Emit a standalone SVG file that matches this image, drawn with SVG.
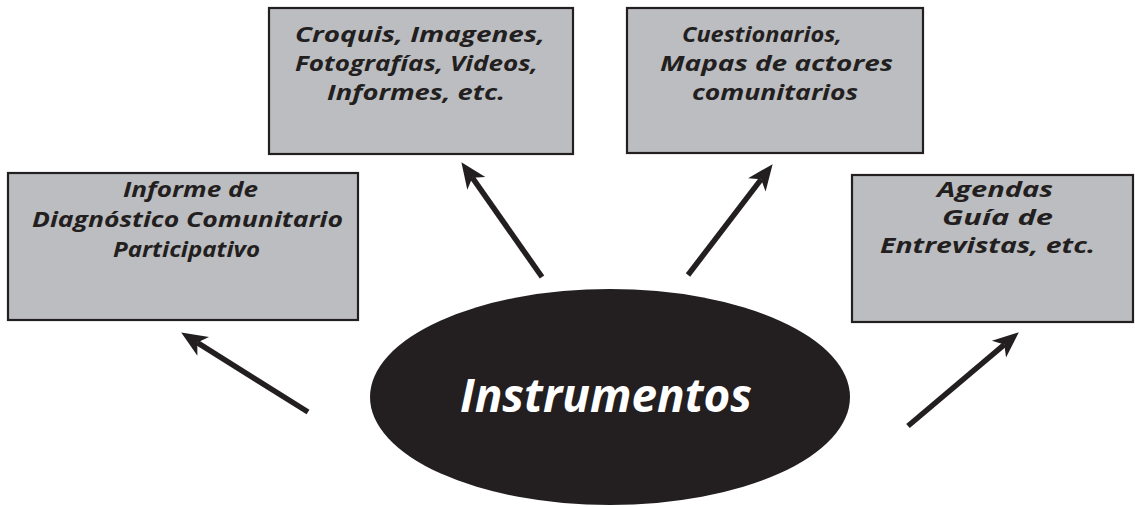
<svg xmlns="http://www.w3.org/2000/svg" width="1135" height="507" viewBox="0 0 1135 507">
<style>
.box{fill:#bcbdc0;stroke:#231f20;stroke-width:2.2}
.t{font-family:"Open Sans","DejaVu Sans",sans-serif;font-style:italic;font-weight:700;font-size:21px;fill:#231f20}
.big{font-family:"Open Sans","DejaVu Sans",sans-serif;font-style:italic;font-weight:700;font-size:47px;fill:#ffffff}
.ln{stroke:#231f20;stroke-width:5.5;fill:none;marker-end:url(#ah)}
</style>
<defs>
<marker id="ah" viewBox="-8 -12 28 24" refX="0" refY="0" markerWidth="28" markerHeight="24" markerUnits="userSpaceOnUse" orient="auto">
<path d="M19,0 L-7,-11 L0,0 L-7,11 Z" fill="#231f20"/>
</marker>
</defs>
<rect width="1135" height="507" fill="#ffffff"/>
<g id="connectors">
<line class="ln" x1="308" y1="412" x2="197.3" y2="342.6"/>
<line class="ln" x1="542" y1="277" x2="472.3" y2="177.7"/>
<line class="ln" x1="688" y1="275" x2="761.1" y2="179.3"/>
<line class="ln" x1="908" y1="426" x2="1004.3" y2="344.6"/>
</g>
<g id="node-informe">
<rect class="box" x="8" y="173" width="350" height="147"/>
<text class="t" x="123" y="197" textLength="135" lengthAdjust="spacingAndGlyphs">Informe de</text>
<text class="t" x="32" y="227" textLength="311" lengthAdjust="spacingAndGlyphs">Diagnóstico Comunitario</text>
<text class="t" x="113" y="257" textLength="147" lengthAdjust="spacingAndGlyphs">Participativo</text>
</g>
<g id="node-croquis">
<rect class="box" x="269" y="8" width="304" height="146"/>
<text class="t" x="295" y="42" textLength="250" lengthAdjust="spacingAndGlyphs">Croquis, Imagenes,</text>
<text class="t" x="295" y="71" textLength="243" lengthAdjust="spacingAndGlyphs">Fotografías, Videos,</text>
<text class="t" x="327" y="100" textLength="178" lengthAdjust="spacingAndGlyphs">Informes, etc.</text>
</g>
<g id="node-cuestionarios">
<rect class="box" x="627" y="8" width="296" height="145"/>
<text class="t" x="682" y="42" textLength="160" lengthAdjust="spacingAndGlyphs">Cuestionarios,</text>
<text class="t" x="660" y="71" textLength="233" lengthAdjust="spacingAndGlyphs">Mapas de actores</text>
<text class="t" x="692" y="100" textLength="166" lengthAdjust="spacingAndGlyphs">comunitarios</text>
</g>
<g id="node-agendas">
<rect class="box" x="852" y="175" width="281" height="147"/>
<text class="t" x="937" y="197" textLength="116" lengthAdjust="spacingAndGlyphs">Agendas</text>
<text class="t" x="942" y="225" textLength="111" lengthAdjust="spacingAndGlyphs">Guía de</text>
<text class="t" x="880" y="253" textLength="215" lengthAdjust="spacingAndGlyphs">Entrevistas, etc.</text>
</g>
<g id="node-instrumentos">
<ellipse cx="610" cy="397" rx="240" ry="108" fill="#231f20"/>
<text class="big" x="460" y="412" textLength="292" lengthAdjust="spacingAndGlyphs">Instrumentos</text>
</g>
</svg>
